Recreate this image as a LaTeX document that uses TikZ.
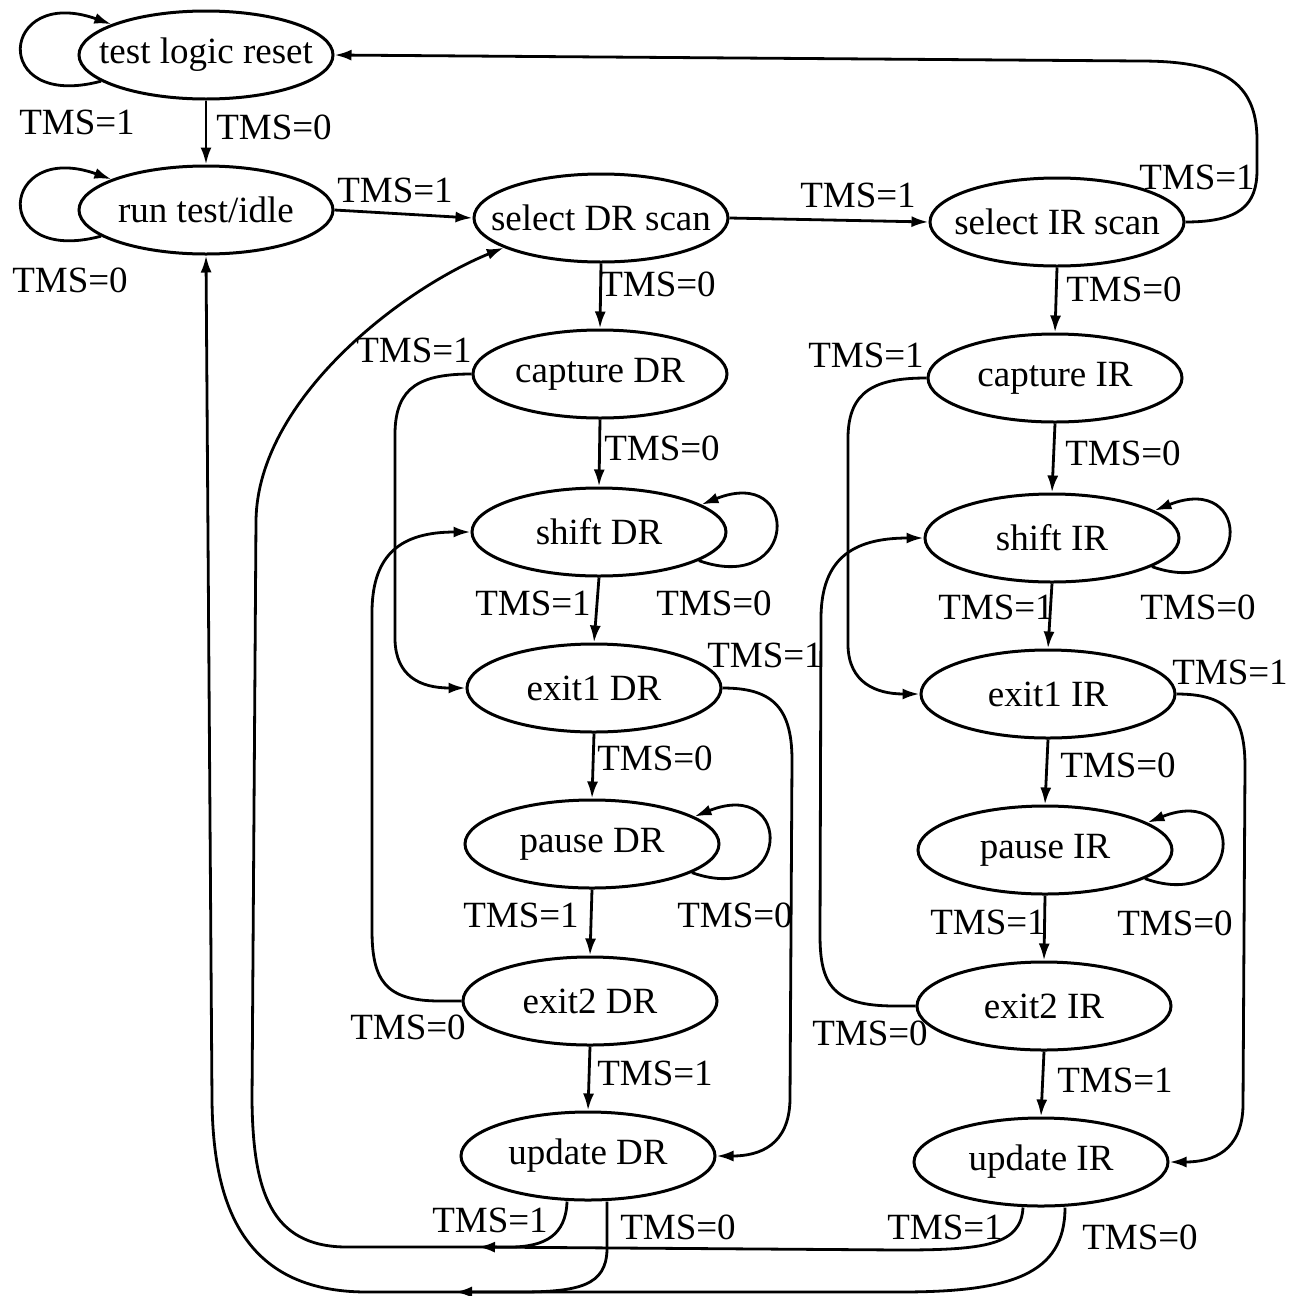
\documentclass[tikz,border=0pt]{standalone}
\usepackage{fontspec}
\setmainfont{Liberation Serif}
\usetikzlibrary{shapes.geometric,arrows.meta}
\newcommand\stxt[1]{\makebox[0pt]{#1}}
\begin{document}
\begin{tikzpicture}[x=1pt,y=-1pt,
  state/.style={ellipse,draw,line width=3pt,minimum width=254pt,minimum height=88pt,inner sep=0pt,font=\fontsize{37}{40}\selectfont},
  lbl/.style={inner sep=0pt,font=\fontsize{37}{40}\selectfont},
  arr/.style={line width=2.8pt,-{Latex[length=17pt,width=11pt]}}]
\path[use as bounding box] (0,0) rectangle (1288,1296);
% states
\node[state] (tlr)  at (206,55)   {\stxt{test logic reset}};
\node[state] (rti)  at (206,210)  {\stxt{run test/idle}};
\node[state] (sdr)  at (601,218)  {\stxt{select DR scan}};
\node[state] (sir)  at (1057,222) {\stxt{select IR scan}};
\node[state] (cdr)  at (600,374)  {\stxt{capture DR}};
\node[state] (cir)  at (1055,378) {\stxt{capture IR}};
\node[state] (shdr) at (599,532)  {\stxt{shift DR}};
\node[state] (shir) at (1052,538) {\stxt{shift IR}};
\node[state] (edr)  at (594,688)  {\stxt{exit1 DR}};
\node[state] (eir)  at (1048,694) {\stxt{exit1 IR}};
\node[state] (pdr)  at (592,844)  {\stxt{pause DR}};
\node[state] (pir)  at (1045,850) {\stxt{pause IR}};
\node[state] (fdr)  at (590,1001) {\stxt{exit2 DR}};
\node[state] (fir)  at (1044,1006){\stxt{exit2 IR}};
\node[state] (udr)  at (588,1156) {\stxt{update DR}};
\node[state] (uir)  at (1041,1162){\stxt{update IR}};
% self loops
\draw[arr] (tlr.194) .. controls +(-112,30) and +(-112,-40) .. (tlr.162);
\draw[arr] (rti.194) .. controls +(-112,30) and +(-112,-40) .. (rti.162);
\draw[arr] (shdr.-16) .. controls +(100,35) and +(100,-40) .. (shdr.15);
\draw[arr] (pdr.-16) .. controls +(100,35) and +(100,-40) .. (pdr.15);
\draw[arr] (shir.-16) .. controls +(100,35) and +(100,-40) .. (shir.15);
\draw[arr] (pir.-16) .. controls +(100,35) and +(100,-40) .. (pir.15);
% straight edges
\draw[arr] (tlr.south) -- (rti.north);
\draw[arr] (rti.east) -- (sdr.west);
\draw[arr] (sdr.east) -- (sir.west);
\draw[arr] (sdr.south) -- (cdr.north);
\draw[arr] (sir.south) -- (cir.north);
\draw[arr] (cdr.south) -- (shdr.north);
\draw[arr] (cir.south) -- (shir.north);
\draw[arr] (shdr.south) -- (edr.north);
\draw[arr] (shir.south) -- (eir.north);
\draw[arr] (edr.south) -- (pdr.north);
\draw[arr] (eir.south) -- (pir.north);
\draw[arr] (pdr.south) -- (fdr.north);
\draw[arr] (pir.south) -- (fir.north);
\draw[arr] (fdr.south) -- (udr.north);
\draw[arr] (fir.south) -- (uir.north);
% select IR -> test logic reset
\draw[arr] (sir.east) .. controls (1240,222) and (1257,205) .. (1257,170) -- (1257,140)
  .. controls (1257,80) and (1220,61) .. (1140,61) -- (tlr.east);
% capture -> exit1
\draw[arr] (cdr.west) .. controls (420,374) and (396,387) .. (395,432) -- (395,640)
  .. controls (396,676) and (420,688) .. (edr.west);
\draw[arr] (cir.west) .. controls (875,378) and (849,391) .. (848,436) -- (848,646)
  .. controls (849,682) and (875,694) .. (eir.west);
% exit2 -> shift
\draw[arr] (fdr.west) -- (440,1001) .. controls (385,1001) and (372,980) .. (372,930) -- (372,610)
  .. controls (373,555) and (400,532) .. (shdr.west);
\draw[arr] (fir.west) -- (895,1006) .. controls (833,1006) and (820,985) .. (820,935) -- (821,616)
  .. controls (822,561) and (850,538) .. (shir.west);
% exit1 -> update
\draw[arr] (edr.east) .. controls (770,688) and (792,705) .. (792,760) -- (790,1100)
  .. controls (789,1145) and (760,1156) .. (udr.east);
\draw[arr] (eir.east) .. controls (1224,694) and (1245,711) .. (1245,766) -- (1243,1106)
  .. controls (1242,1151) and (1213,1162) .. (uir.east);
% update -> select DR scan (TMS=1)
\draw[arr] ([xshift=-21pt]udr.south) .. controls (566,1235) and (545,1247) .. (510,1247)
  -- (347,1247) .. controls (270,1247) and (253,1190) .. (252,1100) -- (256,520)
  .. controls (258,400) and (400,290) .. (sdr.197);
\coordinate (j1) at (478,1247);
\draw[arr] ([xshift=-18pt]uir.south) .. controls (1021,1245) and (985,1250) .. (900,1250) -- (j1);
% update -> run test/idle (TMS=0)
\draw[arr] ([xshift=19pt]udr.south) -- (607,1250) .. controls (606,1285) and (580,1292) .. (520,1292)
  -- (367,1292) .. controls (240,1292) and (213,1200) .. (212,1100) -- (rti.south);
\coordinate (j2) at (455,1292);
\draw[arr] ([xshift=24pt]uir.south) .. controls (1065,1275) and (1010,1292) .. (900,1292) -- (j2);
% labels
\node[lbl] (a1)  at (77,122)   {TMS=1};
\node[lbl] (a2)  at (274,127)  {TMS=0};
\node[lbl] (a3)  at (70,280)   {TMS=0};
\node[lbl] (a4)  at (395,190)  {TMS=1};
\node[lbl] (a5)  at (858,195)  {TMS=1};
\node[lbl] (a6)  at (1197,177) {TMS=1};
\node[lbl] (a7)  at (658,284)  {TMS=0};
\node[lbl] (a8)  at (1124,289) {TMS=0};
\node[lbl] (a9)  at (414,350)  {TMS=1};
\node[lbl] (a10) at (866,355)  {TMS=1};
\node[lbl] (a11) at (662,448)  {TMS=0};
\node[lbl] (a12) at (1123,453) {TMS=0};
\node[lbl] (a13) at (533,603)  {TMS=1};
\node[lbl] (a14) at (714,603)  {TMS=0};
\node[lbl] (a15) at (996,607)  {TMS=1};
\node[lbl] (a16) at (1198,607) {TMS=0};
\node[lbl] (a17) at (765,655)  {TMS=1};
\node[lbl] (a18) at (1230,672) {TMS=1};
\node[lbl] (a19) at (655,758)  {TMS=0};
\node[lbl] (a20) at (1118,765) {TMS=0};
\node[lbl] (a21) at (521,915)  {TMS=1};
\node[lbl] (a22) at (735,915)  {TMS=0};
\node[lbl] (a23) at (988,922)  {TMS=1};
\node[lbl] (a24) at (1175,923) {TMS=0};
\node[lbl] (a25) at (408,1027) {TMS=0};
\node[lbl] (a26) at (870,1033) {TMS=0};
\node[lbl] (a27) at (655,1073) {TMS=1};
\node[lbl] (a28) at (1115,1080){TMS=1};
\node[lbl] (a29) at (490,1220) {TMS=1};
\node[lbl] (a30) at (678,1227) {TMS=0};
\node[lbl] (a31) at (945,1227) {TMS=1};
\node[lbl] (a32) at (1140,1237){TMS=0};
\end{tikzpicture}
\end{document}
